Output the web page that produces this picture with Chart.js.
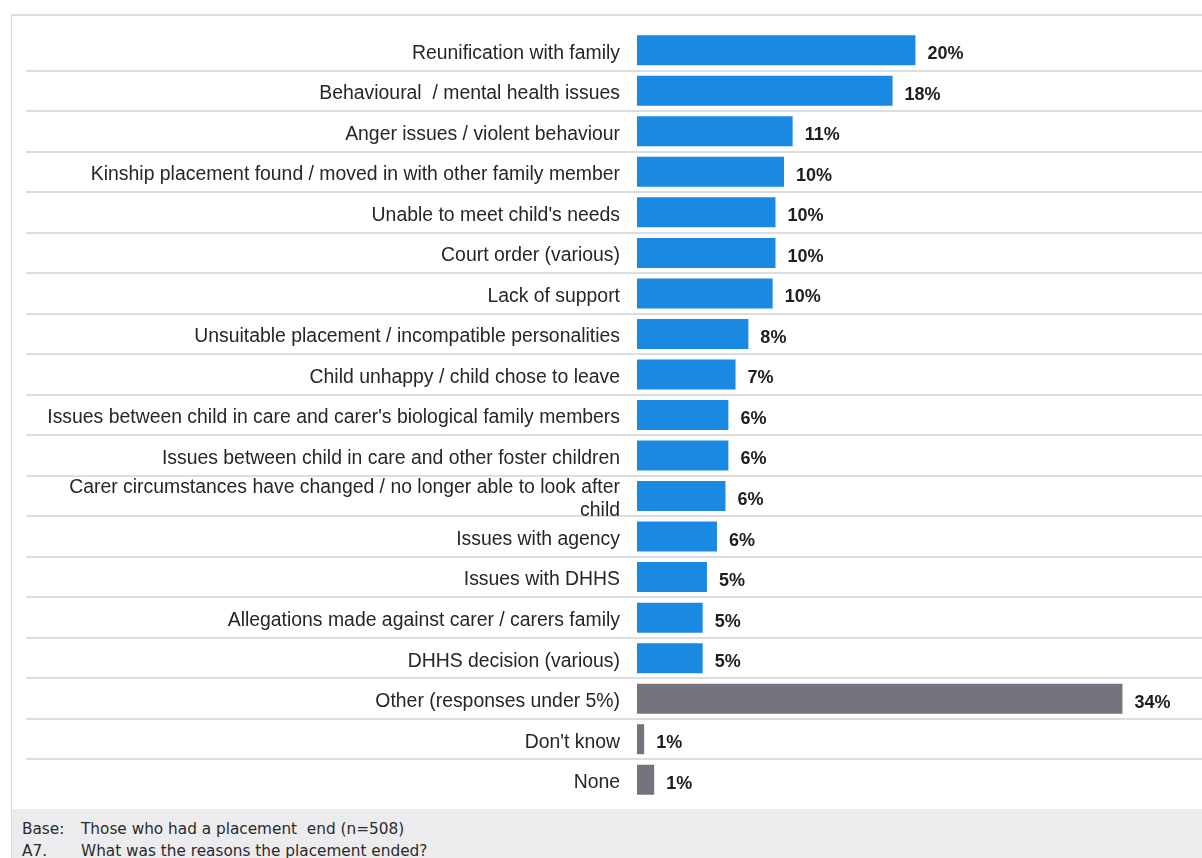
<!DOCTYPE html>
<html>
<head>
<meta charset="utf-8">
<script src="https://cdn.jsdelivr.net/npm/chart.js@4"></script>
<style>
  html, body { margin: 0; padding: 0; background: #ffffff; }
  body { width: 1202px; height: 858px; position: relative; overflow: hidden; }
  #panel { position: absolute; left: 11px; top: 14px; width: 1191px; height: 844px;
           border-left: 1px solid #d6d6da; border-top: 2px solid #dedee2; box-sizing: border-box; background: #fff; }
  #footer { position: absolute; left: 12px; top: 809px; width: 1190px; height: 49px; background: #ececee; }
  .fn { position: absolute; font-family: "DejaVu Sans", Verdana, sans-serif; font-size: 15.3px; line-height: 18px; color: #2a2a2a; white-space: pre; }
  #wrap { position: absolute; left: 0; top: 0; width: 1202px; height: 858px; }
</style>
</head>
<body>
<div id="panel"></div>
<div id="footer"></div>
<div class="fn" style="left:22px; top:820px;">Base:</div>
<div class="fn" style="left:81px; top:820px;">Those who had a placement  end (n=508)</div>
<div class="fn" style="left:22px; top:842px;">A7.</div>
<div class="fn" style="left:81px; top:842px;">What was the reasons the placement ended?</div>
<div id="wrap"><canvas id="c" width="1202" height="858"></canvas></div>
<script>
const categories = [
  "Reunification with family",
  "Behavioural  / mental health issues",
  "Anger issues / violent behaviour",
  "Kinship placement found / moved in with other family member",
  "Unable to meet child's needs",
  "Court order (various)",
  "Lack of support",
  "Unsuitable placement / incompatible personalities",
  "Child unhappy / child chose to leave",
  "Issues between child in care and carer's biological family members",
  "Issues between child in care and other foster children",
  ["Carer circumstances have changed / no longer able to look after", "child"],
  "Issues with agency",
  "Issues with DHHS",
  "Allegations made against carer / carers family",
  "DHHS decision (various)",
  "Other (responses under 5%)",
  "Don't know",
  "None"
];
const values = [19.5, 17.9, 10.9, 10.3, 9.7, 9.7, 9.5, 7.8, 6.9, 6.4, 6.4, 6.2, 5.6, 4.9, 4.6, 4.6, 34.0, 0.5, 1.2];
const valueLabels = ["20%", "18%", "11%", "10%", "10%", "10%", "10%", "8%", "7%", "6%", "6%", "6%", "6%", "5%", "5%", "5%", "34%", "1%", "1%"];
const groups = ["reason","reason","reason","reason","reason","reason","reason","reason","reason","reason","reason","reason","reason","reason","reason","reason","other","other","other"];

const groupColors = { reason: "#1a89e2", other: "#74737e" };

const rowLines = {
  id: "rowLines",
  beforeDraw(chart) {
    const y = chart.scales.y;
    const ctx = chart.ctx;
    ctx.save();
    ctx.strokeStyle = "#dcdce1";
    ctx.lineWidth = 2;
    for (let i = 1; i < categories.length; i++) {
      const py = Math.round((y.getPixelForTick(i - 1) + y.getPixelForTick(i)) / 2);
      ctx.beginPath();
      ctx.moveTo(26, py);
      ctx.lineTo(chart.width, py);
      ctx.stroke();
    }
    ctx.restore();
  }
};

const valueText = {
  id: "valueText",
  afterDatasetsDraw(chart) {
    const ctx = chart.ctx;
    const meta = chart.getDatasetMeta(0);
    ctx.save();
    ctx.font = "bold 18px 'Liberation Sans', Arial, sans-serif";
    ctx.fillStyle = "#1e1e1e";
    ctx.textAlign = "left";
    ctx.textBaseline = "middle";
    meta.data.forEach((bar, i) => {
      ctx.fillText(valueLabels[i], bar.x + 12, bar.y + 4);
    });
    ctx.restore();
  }
};

new Chart(document.getElementById("c"), {
  type: "bar",
  data: {
    labels: categories,
    datasets: [{
      data: values,
      backgroundColor: groups.map(g => groupColors[g]),
      borderWidth: 0,
      barPercentage: 0.74,
      categoryPercentage: 1.0
    }]
  },
  options: {
    indexAxis: "y",
    responsive: false,
    animation: false,
    devicePixelRatio: 1,
    layout: { padding: { left: 0, right: 51, top: 30, bottom: 58 } },
    plugins: { legend: { display: false }, tooltip: { enabled: false } },
    scales: {
      x: { display: false, min: 0, max: 36 },
      y: {
        grid: { display: false, drawTicks: false },
        border: { display: false },
        afterFit(scale) { scale.width = 637; },
        ticks: {
          padding: 17,
          labelOffset: 3,
          color: "#262626",
          font: { family: "'Liberation Sans', Arial, sans-serif", size: 19.4, lineHeight: 1.2 },
          autoSkip: false
        }
      }
    }
  },
  plugins: [rowLines, valueText]
});
</script>
</body>
</html>
